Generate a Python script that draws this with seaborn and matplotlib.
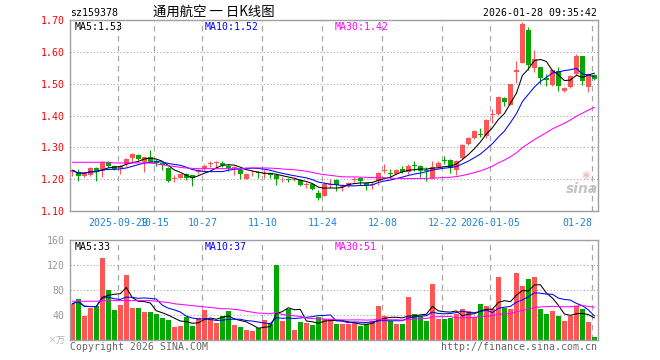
import numpy as np
import pandas as pd
import matplotlib
matplotlib.use("Agg")
import matplotlib.pyplot as plt
import seaborn as sns

# ---------------- data ----------------
dates = [
    "2025-09-17", "2025-09-18", "2025-09-19", "2025-09-22", "2025-09-23", "2025-09-24",
    "2025-09-25", "2025-09-26", "2025-09-29", "2025-09-30",
    "2025-10-09", "2025-10-10", "2025-10-13", "2025-10-14", "2025-10-15", "2025-10-16",
    "2025-10-17", "2025-10-20", "2025-10-21", "2025-10-22", "2025-10-23", "2025-10-24",
    "2025-10-27", "2025-10-28", "2025-10-29", "2025-10-30", "2025-10-31",
    "2025-11-03", "2025-11-04", "2025-11-05", "2025-11-06", "2025-11-07",
    "2025-11-10", "2025-11-11", "2025-11-12", "2025-11-13", "2025-11-14",
    "2025-11-17", "2025-11-18", "2025-11-19", "2025-11-20", "2025-11-21",
    "2025-11-24", "2025-11-25", "2025-11-26", "2025-11-27", "2025-11-28",
    "2025-12-01", "2025-12-02", "2025-12-03", "2025-12-04", "2025-12-05",
    "2025-12-08", "2025-12-09", "2025-12-10", "2025-12-11", "2025-12-12",
    "2025-12-15", "2025-12-16", "2025-12-17", "2025-12-18", "2025-12-19",
    "2025-12-22", "2025-12-23", "2025-12-24", "2025-12-25", "2025-12-26",
    "2025-12-29", "2025-12-30", "2025-12-31",
    "2026-01-05", "2026-01-06", "2026-01-07", "2026-01-08", "2026-01-09",
    "2026-01-12", "2026-01-13", "2026-01-14", "2026-01-15", "2026-01-16",
    "2026-01-19", "2026-01-20", "2026-01-21", "2026-01-22", "2026-01-23",
    "2026-01-26", "2026-01-27", "2026-01-28",
]

open_ = [1.221, 1.221, 1.210, 1.213, 1.235, 1.226, 1.255, 1.242, 1.234, 1.247,
         1.268, 1.276, 1.253, 1.270, 1.256, 1.250, 1.236, 1.200, 1.205, 1.215,
         1.213, 1.222, 1.235, 1.247, 1.250, 1.252, 1.242, 1.236, 1.229, 1.202,
         1.221, 1.223, 1.216, 1.218, 1.212, 1.199, 1.200, 1.198, 1.198, 1.181,
         1.184, 1.155, 1.147, 1.183, 1.198, 1.176, 1.177, 1.197, 1.203, 1.188,
         1.183, 1.195, 1.226, 1.219, 1.217, 1.231, 1.221, 1.243, 1.240, 1.228,
         1.203, 1.237, 1.259, 1.260, 1.229, 1.266, 1.310, 1.329, 1.341, 1.335,
         1.402, 1.405, 1.456, 1.433, 1.538, 1.566, 1.668, 1.550, 1.553, 1.517,
         1.495, 1.540, 1.477, 1.488, 1.530, 1.587, 1.490, 1.527]
high = [1.229, 1.231, 1.223, 1.237, 1.239, 1.258, 1.258, 1.244, 1.244, 1.266,
        1.282, 1.279, 1.270, 1.292, 1.262, 1.252, 1.238, 1.212, 1.217, 1.218,
        1.214, 1.233, 1.247, 1.257, 1.256, 1.257, 1.247, 1.240, 1.232, 1.218,
        1.228, 1.226, 1.230, 1.219, 1.216, 1.208, 1.205, 1.204, 1.200, 1.190,
        1.186, 1.165, 1.190, 1.200, 1.200, 1.184, 1.192, 1.207, 1.208, 1.192,
        1.190, 1.221, 1.247, 1.231, 1.231, 1.242, 1.247, 1.258, 1.244, 1.237,
        1.258, 1.258, 1.273, 1.262, 1.261, 1.312, 1.333, 1.354, 1.362, 1.390,
        1.420, 1.462, 1.457, 1.500, 1.571, 1.695, 1.678, 1.605, 1.553, 1.531,
        1.545, 1.553, 1.488, 1.527, 1.592, 1.587, 1.532, 1.529]
low = [1.211, 1.195, 1.206, 1.211, 1.195, 1.208, 1.237, 1.229, 1.215, 1.242,
       1.253, 1.261, 1.221, 1.250, 1.240, 1.228, 1.190, 1.192, 1.203, 1.198,
       1.179, 1.215, 1.230, 1.237, 1.236, 1.237, 1.226, 1.213, 1.202, 1.200,
       1.210, 1.205, 1.205, 1.205, 1.181, 1.192, 1.190, 1.195, 1.177, 1.171,
       1.166, 1.134, 1.147, 1.171, 1.163, 1.163, 1.174, 1.190, 1.181, 1.166,
       1.170, 1.181, 1.218, 1.205, 1.216, 1.218, 1.216, 1.226, 1.207, 1.193,
       1.200, 1.235, 1.247, 1.218, 1.214, 1.263, 1.308, 1.326, 1.331, 1.330,
       1.378, 1.403, 1.430, 1.433, 1.503, 1.564, 1.542, 1.538, 1.500, 1.493,
       1.493, 1.477, 1.475, 1.486, 1.527, 1.496, 1.474, 1.513]
close = [1.228, 1.210, 1.219, 1.235, 1.226, 1.255, 1.242, 1.232, 1.242, 1.263,
         1.279, 1.263, 1.270, 1.253, 1.251, 1.245, 1.195, 1.202, 1.215, 1.204,
         1.204, 1.228, 1.242, 1.249, 1.254, 1.245, 1.236, 1.237, 1.216, 1.216,
         1.223, 1.219, 1.219, 1.214, 1.202, 1.201, 1.198, 1.200, 1.182, 1.183,
         1.168, 1.142, 1.184, 1.185, 1.181, 1.178, 1.187, 1.200, 1.195, 1.181,
         1.186, 1.219, 1.229, 1.216, 1.228, 1.223, 1.242, 1.241, 1.226, 1.226,
         1.237, 1.250, 1.257, 1.235, 1.258, 1.308, 1.328, 1.350, 1.339, 1.385,
         1.405, 1.458, 1.443, 1.500, 1.542, 1.686, 1.559, 1.576, 1.517, 1.511,
         1.542, 1.493, 1.486, 1.524, 1.587, 1.509, 1.530, 1.516]
volume = [58, 65, 39, 52, 54, 132, 80, 48, 56, 104,
          51, 51, 45, 45, 42, 35, 32, 21, 22, 37,
          22, 35, 48, 34, 27, 38, 46, 24, 21, 16,
          14, 19, 32, 26, 120, 30, 50, 16, 29, 27,
          24, 37, 34, 34, 26, 25, 26, 27, 23, 25,
          31, 55, 39, 31, 26, 26, 69, 41, 39, 31,
          89, 33, 34, 36, 41, 49, 47, 37, 58, 55,
          49, 101, 52, 49, 107, 87, 97, 101, 50, 41,
          47, 39, 31, 39, 54, 50, 29, 5]

# MA30 values for the first 29 days (history lies outside the window)
price_ma30_head = [1.253, 1.253, 1.253, 1.253, 1.253, 1.253, 1.253, 1.251, 1.251, 1.251,
                   1.251, 1.251, 1.251, 1.251, 1.248, 1.245, 1.242, 1.240, 1.237, 1.235,
                   1.234, 1.233, 1.233, 1.233, 1.233, 1.233, 1.233, 1.233, 1.233]
vol_ma30_head = [62, 62, 62, 62, 62, 63, 63, 63, 63, 63,
                 63, 63, 63, 63, 62, 61, 60, 58, 57, 56,
                 55, 54, 53, 52, 51, 50, 50, 49, 48]

tick_labels = {"2025-09-29": "2025-09-29", "2025-10-15": "10-15", "2025-10-27": "10-27",
               "2025-11-10": "11-10", "2025-11-24": "11-24", "2025-12-08": "12-08",
               "2025-12-22": "12-22", "2026-01-05": "2026-01-05", "2026-01-28": "01-28"}

price_ticks = [1.10, 1.20, 1.30, 1.40, 1.50, 1.60, 1.70]
vol_ticks = [40, 80, 120, 160]

title_code = "sz159378"
title_name = "通用航空 一 日K线图"
stamp = "2026-01-28 09:35:42"
ma_price_labels = ["MA5:1.53", "MA10:1.52", "MA30:1.42"]
ma_vol_labels = ["MA5:33", "MA10:37", "MA30:51"]

# ---------------- styling ----------------
RED = "#ff5555"
GREEN = "#00a800"
MA_COLORS = ["#000000", "#0000ff", "#ff00ff"]
FRAME = "#a0a0a0"
GRID = "#a8a8a8"
DATE_BLUE = "#1e82d2"
MONO = "DejaVu Sans Mono"
FS = 7.1
LW = 0.75

sns.set_theme(style="white")
plt.rcParams["font.family"] = [MONO, "Noto Sans CJK SC"]

W, H = 660, 360
fig = plt.figure(figsize=(W / 100, H / 100), dpi=100, facecolor="white")


def rect(l, t, r, b):
    return [l / W, 1 - b / H, (r - l) / W, (b - t) / H]


ax = fig.add_axes(rect(70, 20, 598, 211))
axv = fig.add_axes(rect(70, 240, 598, 340))

df = pd.DataFrame({"date": dates, "open": open_, "high": high, "low": low,
                   "close": close, "vol": volume})
df["i"] = np.arange(len(df))
df["dir"] = np.where(df["close"] >= df["open"], "up", "down")
colors = np.where(df["dir"] == "up", RED, GREEN)

XMIN, XMAX = -0.38, len(df) - 1 + 0.6

# ---------------- grid ----------------
tick_idx = [int(df.index[df["date"] == d][0]) for d in tick_labels]
for a in (ax, axv):
    for ti in tick_idx:
        a.axvline(ti - 0.33, color=GRID, lw=0.9, ls=(0, (4.5, 3.5)), zorder=0)
for p in price_ticks[1:-1]:
    ax.axhline(p, color=GRID, lw=0.8, ls=(0, (1, 2)), zorder=0)
for v in vol_ticks[:-1]:
    axv.axhline(v, color=GRID, lw=0.8, ls=(0, (1, 2)), zorder=0)

# ---------------- candles ----------------
ax.vlines(df["i"], df["low"], df["high"], colors=colors, lw=0.8, zorder=2)
body_lo = np.minimum(df["open"], df["close"])
body_h = np.maximum(np.abs(df["close"] - df["open"]), 0.0028)
ax.bar(df["i"], body_h, bottom=body_lo, width=0.83, color=colors, linewidth=0, zorder=3)

# ---------------- price MAs ----------------
c = df["close"]
ma5 = c.rolling(5, min_periods=1).mean()
ma10 = c.rolling(10, min_periods=1).mean()
ma30 = c.rolling(30).mean()
ma30.iloc[:29] = price_ma30_head
for m, col in zip([ma5, ma10, ma30], MA_COLORS):
    sns.lineplot(x=df["i"], y=m.values, color=col, lw=LW, ax=ax, estimator=None, zorder=4)

# ---------------- volume ----------------
sns.barplot(data=df, x="i", y="vol", hue="dir", palette={"up": RED, "down": GREEN},
            dodge=False, width=0.83, native_scale=True, legend=False, ax=axv,
            saturation=1, linewidth=0, errorbar=None, zorder=2)
v = df["vol"].astype(float)
vma5 = v.rolling(5, min_periods=1).mean()
vma10 = v.rolling(10, min_periods=1).mean()
vma30 = v.rolling(30).mean()
vma30.iloc[:29] = vol_ma30_head
for m, col in zip([vma5, vma10, vma30], MA_COLORS):
    sns.lineplot(x=df["i"], y=m.values, color=col, lw=LW, ax=axv, estimator=None, zorder=4)

# ---------------- axes ----------------
for a in (ax, axv):
    a.set_xlim(XMIN, XMAX)
    a.set_xlabel("")
    a.set_ylabel("")
    a.set_facecolor("white")
    for s in a.spines.values():
        s.set_color(FRAME)
        s.set_linewidth(1.0)
        s.set_visible(True)
    a.grid(False)

ax.set_ylim(price_ticks[0], price_ticks[-1])
ax.set_yticks(price_ticks)
ax.set_yticklabels([f"{p:.2f}" for p in price_ticks], fontsize=FS, color="red", family=MONO)
ax.set_xticks([ti - 0.33 for ti in tick_idx])
xt = ax.set_xticklabels(list(tick_labels.values()), fontsize=FS, color=DATE_BLUE, family=MONO)
xt[-1].set_ha("right")
ax.tick_params(axis="both", length=0, pad=4)
ax.tick_params(axis="x", pad=5)

axv.set_ylim(0, vol_ticks[-1])
axv.set_yticks(vol_ticks)
axv.set_yticklabels([str(t) for t in vol_ticks], fontsize=FS, color="#999999", family=MONO)
axv.set_xticks([])
axv.tick_params(axis="both", length=0, pad=4)


def ftext(x, y, s, **kw):
    fig.text(x / W, 1 - y / H, s, va="center", **kw)


# titles
ftext(70, 13, title_code, fontsize=FS, color="black", family=MONO, ha="left")
ftext(214, 12, title_name, fontsize=9.6, color="black", family=["Noto Sans CJK SC", "DejaVu Sans"], ha="center")
ftext(597, 13, stamp, fontsize=FS, color="black", family=MONO, ha="right")

# MA labels
for s, col, xx in zip(ma_price_labels, MA_COLORS, [75, 205, 335]):
    ftext(xx, 26.5, s, fontsize=FS, color=col, family=MONO, ha="left")
for s, col, xx in zip(ma_vol_labels, MA_COLORS, [75, 205, 335]):
    ftext(xx, 247, s, fontsize=FS, color=col, family=MONO, ha="left")

# volume unit
ftext(65, 341, "×万", fontsize=6.5, color="#b0b0b0", family=["Noto Sans CJK SC", "DejaVu Sans"], ha="right")

# footer
ftext(70, 347, "Copyright 2026 SINA.COM", fontsize=FS, color="#666666", family=MONO, ha="left")
ftext(597, 347, "http://finance.sina.com.cn", fontsize=FS, color="#666666", family=MONO, ha="right")

# watermark
ftext(582, 189, "sina", fontsize=10, color="#c4c4c4", family="DejaVu Sans", ha="center",
      fontweight="bold", fontstyle="italic")
fig.text(586 / W, 1 - 175 / H, "◉", fontsize=7.5, color="#eec4c4", ha="center", va="center",
         family="DejaVu Sans")

fig.savefig("out.png", dpi=100, facecolor="white")
